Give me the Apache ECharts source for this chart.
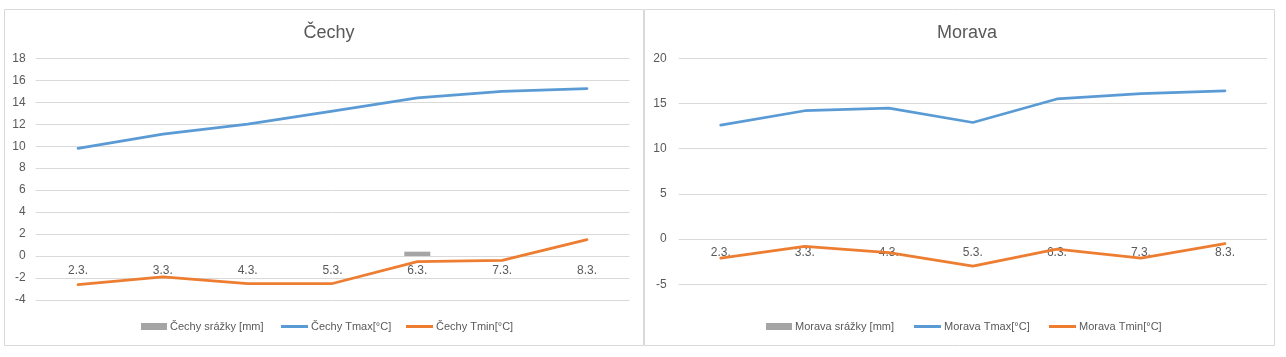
<!DOCTYPE html>
<html>
<head>
<meta charset="utf-8">
<script src="https://cdn.jsdelivr.net/npm/echarts@6/dist/echarts.min.js"></script>
<style>
html,body{margin:0;padding:0;background:#fff;}
#c{width:1286px;height:357px;}
</style>
</head>
<body>
<div id="c"></div>
<script>
// ---- data ----
const categories = ['2.3.', '3.3.', '4.3.', '5.3.', '6.3.', '7.3.', '8.3.'];

const cechySrazky = [0, 0, 0, 0, 0.4, 0, 0];
const cechyTmax   = [9.8, 11.1, 12.0, 13.2, 14.4, 15.0, 15.25];
const cechyTmin   = [-2.6, -1.9, -2.5, -2.5, -0.5, -0.4, 1.5];

const moravaSrazky = [0, 0, 0, 0, 0, 0, 0];
const moravaTmax   = [12.6, 14.2, 14.5, 12.9, 15.5, 16.1, 16.4];
const moravaTmin   = [-2.1, -0.8, -1.5, -3.0, -1.1, -2.1, -0.5];

const cechyTicks  = {min: -4, max: 18, interval: 2};
const moravaTicks = {min: -5, max: 20, interval: 5};

const names = {
  cS: 'Čechy srážky [mm]', cX: 'Čechy Tmax[°C]', cN: 'Čechy Tmin[°C]',
  mS: 'Morava srážky [mm]', mX: 'Morava Tmax[°C]', mN: 'Morava Tmin[°C]'
};

// ---- style ----
const FONT = 'Liberation Sans';
const TXT = '#595959';
const GRID = '#d9d9d9';
const BLUE = '#5b9bd5', ORANGE = '#ed7d31', GRAY = '#a5a5a5';

// category labels sit just under the zero line (axis crossing at 0)
function xAxis(gi, ticks, gridHeight, margin) {
  const zeroFromBottom = (0 - ticks.min) / (ticks.max - ticks.min) * gridHeight;
  return {
    type: 'category', gridIndex: gi, data: categories, boundaryGap: true,
    position: 'bottom', offset: -zeroFromBottom,
    axisLine: {show: false, onZero: false},
    axisTick: {show: false},
    axisLabel: {color: TXT, fontFamily: FONT, fontSize: 12, margin: margin},
    splitLine: {show: false}
  };
}
function yAxis(gi, t, margin) {
  return {
    type: 'value', gridIndex: gi, min: t.min, max: t.max, interval: t.interval,
    axisLine: {show: false}, axisTick: {show: false},
    axisLabel: {color: TXT, fontFamily: FONT, fontSize: 12, margin: margin},
    splitLine: {lineStyle: {color: GRID, width: 1}}
  };
}
function lineSeries(name, gi, data, color) {
  return {
    name: name, type: 'line', xAxisIndex: gi, yAxisIndex: gi, data: data,
    symbol: 'none', lineStyle: {color: color, width: 2.75, cap: 'round', join: 'round'},
    itemStyle: {color: color}, silent: true, z: 3
  };
}
function barSeries(name, gi, data) {
  return {
    name: name, type: 'bar', xAxisIndex: gi, yAxisIndex: gi, data: data,
    barWidth: 26, itemStyle: {color: GRAY}, silent: true, z: 2
  };
}
function legend(name, left, isBar) {
  return {
    data: [{name: name, icon: 'rect'}], left: left, top: 321, orient: 'horizontal',
    itemWidth: isBar ? 26 : 27, itemHeight: isBar ? 7 : 3, itemGap: 0,
    textStyle: {color: TXT, fontFamily: FONT, fontSize: 11, padding: [0, 0, 0, -2]},
    selectedMode: false, padding: 0
  };
}

const G0 = {left: 35.6, right: 656.6, top: 58.3, bottom: 57};
const G1 = {left: 678.7, right: 19, top: 58.3, bottom: 72.7};
const H = 357;

const chart = echarts.init(document.getElementById('c'), null, {renderer: 'canvas'});
chart.setOption({
  animation: false,
  backgroundColor: '#fff',
  title: [
    {text: 'Čechy', left: 324, top: 19, textAlign: 'center',
     textStyle: {color: TXT, fontFamily: FONT, fontSize: 18, fontWeight: 'normal'}},
    {text: 'Morava', left: 962, top: 19, textAlign: 'center',
     textStyle: {color: TXT, fontFamily: FONT, fontSize: 18, fontWeight: 'normal'}}
  ],
  grid: [
    Object.assign({containLabel: false}, G0),
    Object.assign({containLabel: false}, G1)
  ],
  xAxis: [
    xAxis(0, cechyTicks, H - G0.top - G0.bottom, 9),
    xAxis(1, moravaTicks, H - G1.top - G1.bottom, 8)
  ],
  yAxis: [yAxis(0, cechyTicks, 10), yAxis(1, moravaTicks, 12)],
  legend: [
    legend(names.cS, 141, true), legend(names.cX, 281, false), legend(names.cN, 406, false),
    legend(names.mS, 766, true), legend(names.mX, 914, false), legend(names.mN, 1049, false)
  ],
  series: [
    barSeries(names.cS, 0, cechySrazky),
    lineSeries(names.cX, 0, cechyTmax, BLUE),
    lineSeries(names.cN, 0, cechyTmin, ORANGE),
    barSeries(names.mS, 1, moravaSrazky),
    lineSeries(names.mX, 1, moravaTmax, BLUE),
    lineSeries(names.mN, 1, moravaTmin, ORANGE)
  ],
  graphic: [
    {type: 'rect', shape: {x: 4.5, y: 9.5, width: 639, height: 336}, silent: true,
     style: {fill: 'none', stroke: GRID, lineWidth: 1}},
    {type: 'rect', shape: {x: 644.5, y: 9.5, width: 630, height: 336}, silent: true,
     style: {fill: 'none', stroke: GRID, lineWidth: 1}}
  ]
});
</script>
</body>
</html>
